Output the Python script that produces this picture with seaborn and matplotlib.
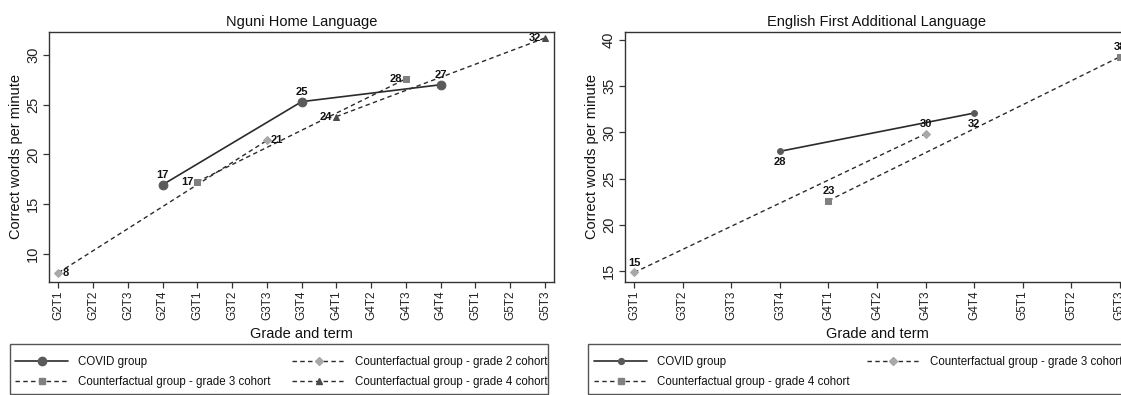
import matplotlib
matplotlib.use("Agg")
import matplotlib.pyplot as plt
from matplotlib.lines import Line2D
from matplotlib.patches import Rectangle
import seaborn as sns
import pandas as pd

# ---------------- data ----------------
nguni_terms = ["G2T1", "G2T2", "G2T3", "G2T4", "G3T1", "G3T2", "G3T3", "G3T4",
               "G4T1", "G4T2", "G4T3", "G4T4", "G5T1", "G5T2", "G5T3"]
efal_terms = ["G3T1", "G3T2", "G3T3", "G3T4", "G4T1", "G4T2", "G4T3", "G4T4",
              "G5T1", "G5T2", "G5T3"]

nguni_covid_terms = ["G2T4", "G3T4", "G4T4"]
nguni_covid_vals = [16.95, 25.3, 27.0]
nguni_g2_terms = ["G2T1", "G3T3"]
nguni_g2_vals = [8.1, 21.4]
nguni_g3_terms = ["G3T1", "G4T3"]
nguni_g3_vals = [17.25, 27.6]
nguni_g4_terms = ["G4T1", "G5T3"]
nguni_g4_vals = [23.8, 31.7]

efal_covid_terms = ["G3T4", "G4T4"]
efal_covid_vals = [27.95, 32.1]
efal_g3_terms = ["G3T1", "G4T3"]
efal_g3_vals = [14.8, 29.85]
efal_g4_terms = ["G4T1", "G5T3"]
efal_g4_vals = [22.6, 38.2]

legend_covid = "COVID group"
legend_g2 = "Counterfactual group - grade 2 cohort"
legend_g3 = "Counterfactual group - grade 3 cohort"
legend_g4 = "Counterfactual group - grade 4 cohort"

# ---------------- style ----------------
sns.set_theme(style="ticks")
plt.rcParams["font.family"] = ["Liberation Sans", "DejaVu Sans"]

W, H = 1121, 395
fig = plt.figure(figsize=(W / 100, H / 100), dpi=100)

def fx(px):
    return px / W

def fy(py):
    return 1 - py / H

LINE = "#2b2b2b"
DASH = (0, (3.2, 2.4))
C_COVID = "#5a5a5a"
C_DIAM = "#a8a8a8"
C_SQ = "#808080"
C_TRI = "#4a4a4a"

ax1 = fig.add_axes([fx(49), fy(281.7), fx(553.7 - 49), (281.7 - 32) / H])
ax2 = fig.add_axes([fx(625), fy(281.7), fx(1129 - 625), (281.7 - 32) / H])


def draw_series(ax, terms, order, vals, color, ls, marker, ms, lw, labpos):
    idx = [order.index(t) for t in terms]
    df = pd.DataFrame({"x": idx, "y": vals})
    sns.lineplot(data=df, x="x", y="y", ax=ax, color=LINE, linestyle=ls,
                 linewidth=lw, marker=marker, markersize=ms,
                 markerfacecolor=color, markeredgecolor=color, zorder=3,
                 estimator=None, sort=False)
    offs = {"above": ((0, 3.5), "center", "bottom"),
            "below": ((0, -4), "center", "top"),
            "left": ((-3, 0), "right", "center"),
            "right": ((3, 0), "left", "center")}
    (dx, dy), ha, va = offs[labpos]
    for x, y in zip(idx, vals):
        ax.annotate(f"{y:.0f}", (x, y), xytext=(dx, dy), textcoords="offset points",
                    ha=ha, va=va, fontsize=8, fontweight="bold", color="#111111",
                    zorder=4)


# Nguni panel
draw_series(ax1, nguni_covid_terms, nguni_terms, nguni_covid_vals, C_COVID, "-", "o", 6.3, 1.2, "above")
draw_series(ax1, nguni_g2_terms, nguni_terms, nguni_g2_vals, C_DIAM, DASH, "D", 4.2, 1.0, "right")
draw_series(ax1, nguni_g3_terms, nguni_terms, nguni_g3_vals, C_SQ, DASH, "s", 4.2, 1.0, "left")
draw_series(ax1, nguni_g4_terms, nguni_terms, nguni_g4_vals, C_TRI, DASH, "^", 4.6, 1.0, "left")

# EFAL panel
draw_series(ax2, efal_covid_terms, efal_terms, efal_covid_vals, C_COVID, "-", "o", 4.2, 1.2, "below")
draw_series(ax2, efal_g3_terms, efal_terms, efal_g3_vals, C_DIAM, DASH, "D", 4.2, 1.0, "above")
draw_series(ax2, efal_g4_terms, efal_terms, efal_g4_vals, C_SQ, DASH, "s", 4.2, 1.0, "above")

for ax, terms, title, ylim, yticks, pad in [
        (ax1, nguni_terms, "Nguni Home Language", (7.2, 32.3), [10, 15, 20, 25, 30], (0.27, 0.25)),
        (ax2, efal_terms, "English First Additional Language", (13.8, 40.9), [15, 20, 25, 30, 35, 40], (0.19, 0.19))]:
    ax.set_xlim(-pad[0], len(terms) - 1 + pad[1])
    ax.set_ylim(*ylim)
    ax.set_xticks(range(len(terms)))
    ax.set_xticklabels(terms, rotation=90, fontsize=8.5, color="#222222")
    ax.set_yticks(yticks)
    ax.set_yticklabels([str(v) for v in yticks], rotation=90, fontsize=10.5,
                       va="center", color="#222222")
    ax.tick_params(axis="both", direction="out", length=4.5, width=0.9,
                   color="#333333", pad=2)
    ax.set_title(title, fontsize=10.5, color="#111111", pad=4)
    ax.set_xlabel("Grade and term", fontsize=10.5, color="#111111", labelpad=5)
    ax.set_ylabel("Correct words per minute", fontsize=10.5, color="#111111", labelpad=2)
    for s in ax.spines.values():
        s.set_visible(True)
        s.set_color("#333333")
        s.set_linewidth(1.0)
    ax.set_facecolor("white")


def handle(color, ls, marker, ms, lw):
    return Line2D([0], [0], color=LINE, linestyle=ls, linewidth=lw, marker=marker,
                  markersize=ms, markerfacecolor=color, markeredgecolor=color)


h_covid = handle(C_COVID, "-", "o", 6, 1.2)
h_covid2 = handle(C_COVID, "-", "o", 4.2, 1.2)
h_g2 = handle(C_DIAM, DASH, "D", 4, 1.0)
h_g3 = handle(C_SQ, DASH, "s", 4, 1.0)
h_g4 = handle(C_TRI, DASH, "^", 4.5, 1.0)
h_g3r = handle(C_DIAM, DASH, "D", 4, 1.0)
h_g4r = handle(C_SQ, DASH, "s", 4, 1.0)

leg_kw = dict(ncol=2, loc="upper left", fontsize=8.3,
              handlelength=4.6, handletextpad=0.85, borderaxespad=0,
              frameon=False, labelspacing=0.72,
              borderpad=0, numpoints=1, labelcolor="#111111")

# legend boxes
for (x0, x1) in [(10, 548), (588, 1130)]:
    fig.add_artist(Rectangle((fx(x0), fy(394)), fx(x1 - x0), (394 - 344) / H,
                             transform=fig.transFigure, fill=True, facecolor="white",
                             edgecolor="#555555", linewidth=1.0, zorder=0))

fig.legend([h_covid, h_g3, h_g2, h_g4],
           [legend_covid, legend_g3, legend_g2, legend_g4],
           bbox_to_anchor=(fx(15), fy(356)), columnspacing=1.9, **leg_kw)
fig.legend([h_covid2, h_g4r, h_g3r],
           [legend_covid, legend_g4, legend_g3],
           bbox_to_anchor=(fx(594), fy(356)), columnspacing=1.5, **leg_kw)

fig.savefig("out.png", dpi=100, facecolor="white")
